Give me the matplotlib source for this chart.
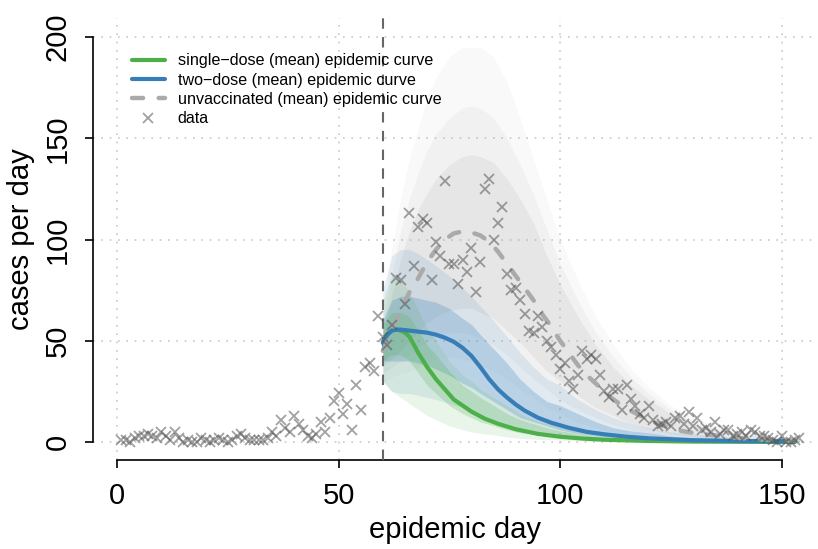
import matplotlib
matplotlib.use("Agg")
import matplotlib.pyplot as plt
import numpy as np

plt.rcParams['font.family'] = ['Liberation Sans', 'DejaVu Sans']

####################################
#######  DADOS
####################################

# casos observados por dia (dias 1..154)
dias = list(range(1, 155))
casos = [1, 1, 0, 2, 3, 3, 4, 3, 2, 5, 3, 1, 5, 2, 0, 1, 0, 0, 2, 1,
         0, 1, 2, 1, 0, 1, 3, 4, 2, 1, 1, 1, 1, 2, 5, 3, 11, 7, 5, 13,
         9, 6, 3, 2, 4, 10, 5, 12, 20, 24, 14, 19, 6, 28, 16, 37, 39, 35, 62, 52,
         48, 58, 81, 80, 68, 113, 87, 106, 110, 108, 80, 99, 92, 129, 88, 88, 78, 90, 84, 96,
         74, 89, 125, 130, 100, 108, 116, 83, 75, 76, 70, 63, 55, 54, 62, 57, 50, 47, 43, 36,
         39, 30, 26, 33, 45, 41, 43, 41, 33, 25, 22, 26, 26, 16, 28, 21, 18, 14, 12, 18,
         11, 8, 9, 10, 8, 12, 13, 9, 15, 8, 12, 6, 7, 5, 10, 4, 6, 6, 3, 4,
         5, 3, 6, 5, 3, 3, 2, 1, 0, 3, 0, 0, 1, 2]

# curvas medias
dia_verde = [60, 61, 62, 63, 64, 65, 66, 67, 68, 70, 72, 74, 76, 78, 80, 83, 86, 90, 95, 100, 105, 110, 120, 130, 140, 153]
verde = [49, 53, 55, 55.5, 55, 54, 52, 48, 44, 37, 31, 26, 21, 18, 15, 11.5, 9, 6.3, 4, 2.6, 1.7, 1.1, 0.5, 0.2, 0.1, 0]

dia_azul = [60, 61, 62, 63, 64, 66, 68, 70, 72, 74, 76, 78, 80, 82, 84, 86, 88, 90, 92, 95, 98, 102, 106, 110, 115, 120, 130, 140, 153]
azul = [49, 53, 55, 55.5, 55.5, 55, 54.5, 54, 53, 51.5, 49.5, 46.5, 42.5, 37, 31, 26, 22, 18.5, 15.5, 12, 9.5, 7, 5, 3.8, 2.6, 1.8, 0.9, 0.5, 0.3]

dia_cinza = [60, 62, 64, 66, 68, 70, 72, 74, 76, 78, 80, 82, 84, 86, 88, 90, 92, 94, 96, 98, 100, 102, 104, 106, 108, 110, 112, 115, 119, 122, 126, 130, 134, 140, 145, 150, 153]
cinza = [45, 55, 65, 74, 81, 89, 95, 100, 103, 104, 103.5, 102, 99, 94, 88, 82, 76, 70, 63, 57, 50, 44, 38, 33, 29, 25, 21, 16.5, 12, 9, 6, 4.5, 3.5, 2, 1.3, 0.8, 0.6]

# envelopes das simulacoes (externo / medio / interno)
dia_env = [60, 62, 64, 66, 68, 70, 72, 75, 78, 80, 82, 85, 88, 91, 94, 97, 100, 104, 108, 112, 116, 120, 125, 130, 135, 140, 145, 150, 154]
cinza_ext_sup = [60, 95, 120, 140, 155, 170, 180, 190, 195, 195, 195, 190, 178, 160, 140, 120, 100, 80, 62, 48, 36, 27, 18, 12, 8, 5, 3, 2, 1.5]
cinza_ext_inf = [30, 32, 34, 35, 37, 40, 41, 42, 41, 40, 38, 35, 31, 26, 22, 17, 14, 10, 7, 5, 4, 2.5, 1.7, 1, 0.7, 0.5, 0.3, 0.1, 0]
cinza_med_sup = [56, 82, 104, 120, 133, 144, 152, 160, 165, 166, 165, 160, 150, 137, 122, 105, 88, 70, 54, 42, 32, 24, 16, 10.5, 7, 4.5, 3, 2, 1.2]
cinza_med_inf = [34, 37, 40, 43, 47, 50, 52, 54, 54, 53, 51, 48, 43, 37, 31, 26, 21, 16, 12, 8.5, 6, 4.3, 2.8, 1.7, 1.2, 0.8, 0.5, 0.3, 0.2]
cinza_int_sup = [52, 72, 90, 104, 115, 123, 130, 137, 141, 142, 141, 138, 130, 120, 108, 92, 78, 62, 48, 37, 28, 21, 14, 9, 6, 4, 3, 2, 1]
cinza_int_inf = [38, 41, 45, 50, 55, 59, 62, 65, 66, 66, 64, 61, 55, 49, 42, 35, 30, 23, 17, 13, 9, 6.5, 4, 2.5, 1.8, 1, 0.7, 0.4, 0.3]

azul_ext_sup = [75, 92, 95, 95, 93, 90, 87, 82, 76, 72, 67, 60, 52, 44, 37, 31, 28, 21, 16, 12, 9, 7, 5, 4, 3, 2, 1.5, 1.2, 1]
azul_ext_inf = [30, 25, 24, 24, 23, 22, 21, 19, 17, 15, 13, 11, 9, 7, 5.5, 4.5, 4, 3, 2.2, 1.6, 1.2, 1, 0.6, 0.4, 0.2, 0.1, 0, 0, 0]
azul_int_sup = [60, 70, 72, 72, 71, 70, 69, 66, 61, 58, 53, 46, 39, 31, 25, 20, 18, 14, 10, 7, 5.5, 4.5, 3, 2, 1.5, 1.2, 1, 0.9, 0.8]
azul_int_inf = [40, 40, 40, 40, 39, 38, 36, 33, 29, 27, 24, 20, 16, 12, 10, 8, 6, 4.2, 3, 2.2, 1.8, 1.5, 1, 0.7, 0.5, 0.4, 0.3, 0.2, 0.2]

verde_ext_sup = [70, 82, 80, 74, 65, 56, 50, 40, 33, 30, 26, 22, 18, 14, 11, 9, 7.5, 5.5, 4, 3, 2, 1.5, 1, 0.7, 0.5, 0.4, 0.3, 0.3, 0.3]
verde_ext_inf = [30, 25, 22, 19, 16, 13, 11, 8, 6, 5, 4.3, 3.5, 2.5, 1.8, 1.4, 1.1, 1, 0.6, 0.3, 0.2, 0.1, 0, 0, 0, 0, 0, 0, 0, 0]
verde_int_sup = [58, 64, 64, 62, 55, 48, 43, 35, 28, 25, 22, 18, 14, 11, 9, 7, 5.5, 4, 2.8, 2, 1.4, 1, 0.6, 0.4, 0.3, 0.2, 0.2, 0.2, 0.2]
verde_int_inf = [40, 43, 43, 40, 34, 28, 24, 18, 14, 12, 10, 8, 6, 4.5, 3.8, 3, 2.5, 1.8, 1.2, 0.9, 0.6, 0.4, 0.2, 0.1, 0, 0, 0, 0, 0]

dia_vacina = 60

legenda = ['single\u2212dose (mean) epidemic curve',
           'two\u2212dose (mean) epidemic curve',
           'unvaccinated (mean) epidemic curve',
           'data']

####################################
#######  GRAFICO
####################################

COR_VERDE = '#4DAF4A'
COR_AZUL = '#377EB8'
COR_CINZA = '#AAAAAA'

fig = plt.figure(figsize=(8.18, 5.49), dpi=100)
ax = fig.add_axes([0.1132, 0.1621, 0.8868, 0.8051])

ax.set_xlim(-5.5, 158.2)
ax.set_ylim(-8.9, 209.4)

# grade pontilhada
for gx in [0, 50, 100, 150]:
    ax.axvline(gx, color='#C8C8C8', lw=1.2, ls=(0, (1, 4)), zorder=0)
for gy in [0, 50, 100, 150, 200]:
    ax.axhline(gy, color='#C8C8C8', lw=1.2, ls=(0, (1, 4)), zorder=0)

# nuvens das simulacoes
ax.fill_between(dia_env, cinza_ext_inf, cinza_ext_sup, color='#B0B0B0', alpha=0.07, lw=0, zorder=1)
ax.fill_between(dia_env, cinza_med_inf, cinza_med_sup, color='#B0B0B0', alpha=0.1, lw=0, zorder=1)
ax.fill_between(dia_env, cinza_int_inf, cinza_int_sup, color='#B0B0B0', alpha=0.16, lw=0, zorder=1)
ax.fill_between(dia_env, azul_ext_inf, azul_ext_sup, color=COR_AZUL, alpha=0.12, lw=0, zorder=2)
ax.fill_between(dia_env, azul_int_inf, azul_int_sup, color=COR_AZUL, alpha=0.25, lw=0, zorder=2)
ax.fill_between(dia_env, verde_ext_inf, verde_ext_sup, color=COR_VERDE, alpha=0.12, lw=0, zorder=3)
ax.fill_between(dia_env, verde_int_inf, verde_int_sup, color=COR_VERDE, alpha=0.22, lw=0, zorder=3)

# linha vertical da vacinacao
ax.axvline(dia_vacina, color='#666666', lw=1.5, ls=(0, (5, 4)), zorder=4)

# curvas medias
l1, = ax.plot(dia_verde, verde, color=COR_VERDE, lw=3, solid_capstyle='round', zorder=5)
l2, = ax.plot(dia_azul, azul, color=COR_AZUL, lw=3, solid_capstyle='round', zorder=6)
l3, = ax.plot(dia_cinza, cinza, color=COR_CINZA, lw=3.2, dashes=(2.5, 3.5),
              dash_capstyle='round', zorder=7)

# dados
l4, = ax.plot(dias, casos, 'x', color='#555555', alpha=0.55, ms=7.5, mew=1.3, zorder=8)

leg = ax.legend([l1, l2, l3, l4], legenda, loc='upper left', bbox_to_anchor=(0.045, 0.935),
                frameon=False, fontsize=11.6, handlelength=2.05, labelspacing=0.27,
                handletextpad=0.8, borderaxespad=0)

# eixos estilo R
for s in ['top', 'right']:
    ax.spines[s].set_visible(False)
ax.spines['left'].set_bounds(0, 200)
ax.spines['bottom'].set_bounds(0, 150)
ax.spines['left'].set_linewidth(1.2)
ax.spines['bottom'].set_linewidth(1.2)

ax.set_xticks([0, 50, 100, 150])
ax.set_yticks([0, 50, 100, 150, 200])
ax.tick_params(axis='both', length=6, width=1.2, labelsize=21)
ax.tick_params(axis='x', pad=10)
ax.tick_params(axis='y', pad=9)
for t in ax.get_yticklabels():
    t.set_rotation(90)
    t.set_va('center')

ax.set_xlabel('epidemic day', fontsize=21, labelpad=4)
ax.set_ylabel('cases per day', fontsize=21, labelpad=6)

plt.savefig('out.png', dpi=100)
